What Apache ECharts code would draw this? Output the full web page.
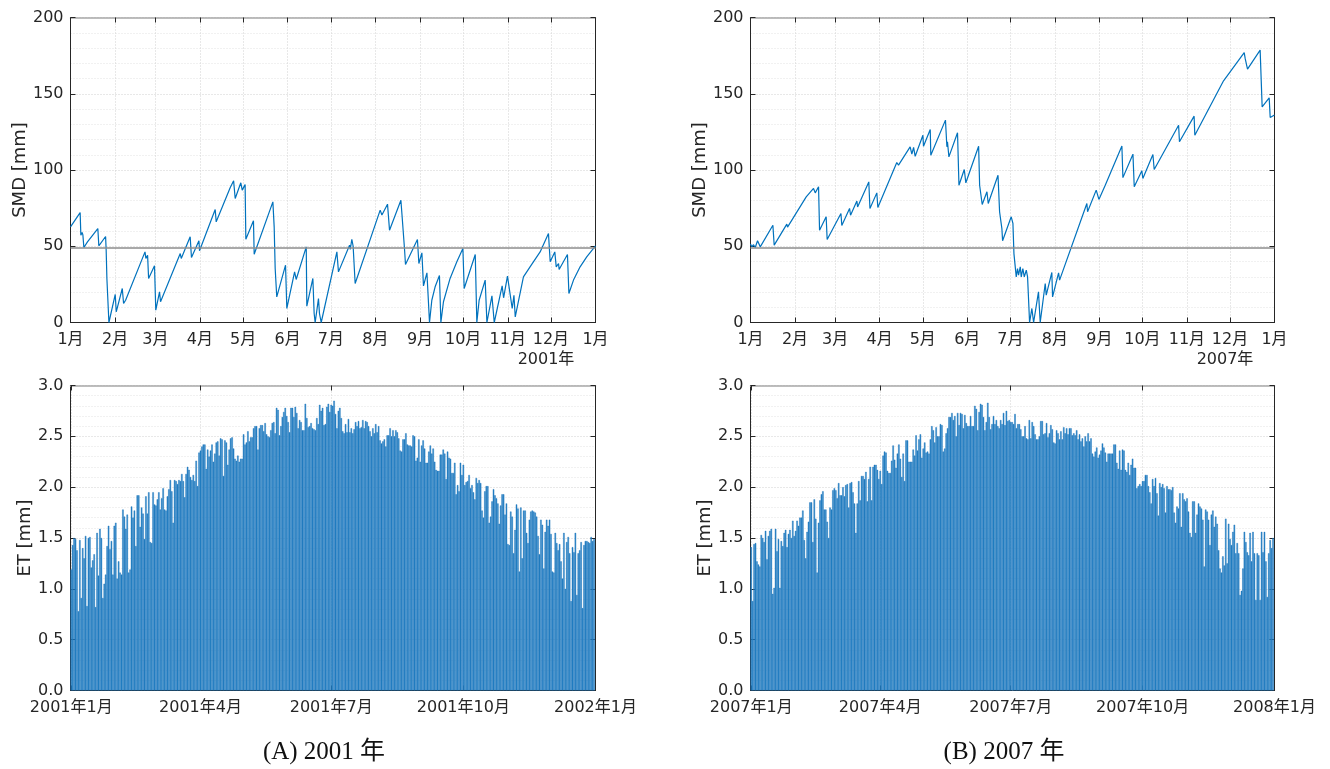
<!DOCTYPE html>
<html><head><meta charset="utf-8">
<script src="https://cdn.jsdelivr.net/npm/echarts@6/dist/echarts.min.js"></script>
<style>html,body{margin:0;padding:0;background:#fff}#c{width:1330px;height:769px}</style>
</head><body><div id="c"></div>
<script>
// ---------- data ----------
const monthTickDays = [0,31,59,90,120,151,181,212,243,273,304,334,365];
const monthTickLabels = ['1月','2月','3月','4月','5月','6月','7月','8月','9月','10月','11月','12月','1月'];
const etTickDays = [0,90,181,273,365];
const etTickLabelsA = ['2001年1月','2001年4月','2001年7月','2001年10月','2002年1月'];
const etTickLabelsB = ['2007年1月','2007年4月','2007年7月','2007年10月','2008年1月'];
const yearLabelA = '2001年';
const yearLabelB = '2007年';
const captionA = '(A) 2001 年';
const captionB = '(B) 2007 年';
const smdThreshold = 49;

// SMD [mm] vertices: [day of year, value]
const smd2001 = [
[0,62.7],[6.7,72.1],[7.2,57.3],[8.1,59],[8.6,57.5],[9.3,49.2],[11.8,52.9],[19.0,61.6],[19.7,50.3],[24.4,56.4],[24.8,47.4],[25.3,28.9],[25.7,28],[26.7,0],[31.1,18.4],[31.8,7],[36.0,22.3],[36.9,12.5],[38.3,14.6],[51.8,46.3],[52.4,42],[53.6,44],[54.3,28.9],[58.4,37.2],[59.3,8.1],[61.9,20.1],[62.6,13.6],[76.3,45.2],[77.0,42],[83.2,56.2],[84.1,42.6],[89.3,53.6],[89.7,47],[100.6,74.1],[101.3,66],[111.0,88.3],[113.4,92.9],[114.5,81.3],[118.4,91.6],[119.4,86.8],[121.4,90.5],[121.9,54.6],[127.2,66.7],[127.7,44.8],[140.7,79.1],[141.6,62.7],[142.3,35.4],[143.4,16.8],[149.5,37.6],[150.4,9.2],[155.8,33.2],[156.9,28.2],[163.9,49.6],[164.3,10.7],[168.5,28.9],[169.4,5.9],[170.1,0],[172.4,15.7],[173.1,5.9],[174.3,0],[185.2,46.3],[186.3,33.2],[194,50.7],[194.5,48],[195.6,54.6],[196.5,50],[197.9,25.6],[215.3,73.7],[216.5,70.5],[220.4,77.6],[221.8,60.5],[229.7,80.2],[230.4,71.5],[231.5,72.6],[232.2,48.5],[232.9,38],[241.2,54.4],[242.2,38.7],[244.3,45.7],[245.4,24],[247.8,32.6],[249.6,0],[251.2,14.6],[253.5,23.4],[256.5,30.8],[257.5,0],[259.3,13.6],[263.9,28.9],[268.6,39.8],[272.8,48.5],[273.7,22.3],[281.4,44.6],[282.5,0],[284.1,14.6],[288.3,27.8],[289.5,0],[293.0,17.5],[294.6,0],[300.1,24],[301.1,16.2],[303.8,30.4],[307.1,9.2],[308.3,17.9],[309.2,3.7],[314.9,29.9],[319.5,36.5],[326.5,46.3],[332.3,58.4],[333.5,39.8],[336.7,46.3],[337.7,36.5],[339.3,38.7],[339.7,34.8],[345.5,44.6],[346.5,19],[349.7,27.8],[354.3,36.5],[358.9,43],[365,50.3]
];
const smd2007 = [
[0,51.4],[0.9,49.6],[2.1,51],[3.3,49.2],[4.9,53.6],[6.0,54.4],[6.8,49.6],[15.6,63.8],[16.5,50.7],[25.3,64.5],[25.8,62.5],[38.8,82.4],[43.9,87.9],[45.1,85],[47.4,89],[48.1,60.5],[52.7,69.3],[53.4,54.4],[63.0,71.5],[63.6,63.6],[69.0,74.8],[69.7,70.4],[74.1,79.6],[74.6,75.8],[82.4,92.2],[83.2,74.8],[88.0,85],[88.7,75.4],[101.9,104.9],[103.1,103.2],[111.2,115.2],[112.4,110.4],[113.6,114.8],[114.7,109],[120.1,122.8],[120.5,115.6],[125.2,126.6],[125.6,109.7],[135.8,132.7],[136.8,115.2],[137.2,118.5],[138.2,108.6],[144.2,124.4],[145.2,90],[148.9,100.3],[150.0,91.6],[158.9,115.6],[159.6,90],[160.7,90.5],[161.4,77.4],[164.7,85.7],[165.6,78],[172.4,96.6],[173.5,72.6],[174.4,73.2],[175.1,61.6],[175.6,53.6],[181.6,69.3],[182.8,65],[183.5,45.2],[183.9,44.1],[185.1,29.9],[186.0,35.4],[186.7,31],[187.9,36.5],[188.6,29.9],[189.7,35.4],[190.7,29.9],[192.1,34.3],[193.0,29.9],[194.4,0],[196.0,9.2],[197.2,0],[200.6,20.1],[201.8,0],[205.3,25.6],[206.0,17.9],[209.9,32.8],[210.4,16.8],[214.6,32.6],[215.3,27.8],[234.3,78],[234.8,72.6],[240.8,86.8],[242.7,80.7],[247.1,90],[258.7,115.8],[259.4,95],[266.4,110.4],[267.3,89],[272.6,99.5],[273.3,94.4],[280.3,110.2],[281.2,100.3],[298.2,129.4],[298.8,118.5],[309.0,135.3],[309.5,122.8],[329.5,158.5],[343.9,177],[344.6,173],[345.1,173.6],[346.2,166.1],[355.0,178.6],[356.4,141.4],[361.3,147.3],[362.0,134.4],[363.2,135.5],[365,136]
];

// daily ET [mm], 365 values each
const et2001 = [
1.19,1.43,1.50,1.49,1.38,0.78,1.48,0.91,1.40,1.30,
1.52,0.83,1.50,1.51,1.21,1.28,1.34,0.82,1.55,1.13,
1.59,1.50,0.91,1.05,1.14,1.42,1.62,1.39,1.47,1.14,
1.62,1.65,1.10,1.27,1.16,1.14,1.78,1.71,1.59,1.73,
1.16,1.19,1.81,1.70,1.77,1.42,1.92,1.92,1.61,1.80,
1.74,1.49,1.91,1.74,1.95,1.46,1.45,1.95,1.83,1.82,
1.88,1.95,1.78,1.89,1.99,1.78,1.77,1.91,1.98,2.07,
1.96,1.65,2.07,2.06,2.03,2.07,2.06,2.13,2.06,1.90,
2.13,2.20,2.17,2.10,2.07,2.12,2.06,2.26,2.01,2.34,
2.36,2.40,2.42,2.42,2.18,2.37,2.30,2.36,2.42,2.25,
2.33,2.44,2.45,2.31,2.48,2.47,2.11,2.46,2.44,2.22,
2.37,2.48,2.49,2.38,2.28,2.26,2.31,2.25,2.28,2.28,
2.52,2.42,2.44,2.55,2.45,2.49,2.49,2.58,2.60,2.60,
2.37,2.58,2.61,2.61,2.55,2.63,2.52,2.50,2.49,2.56,
2.63,2.64,2.53,2.78,2.76,2.51,2.60,2.69,2.74,2.78,
2.70,2.64,2.54,2.78,2.78,2.69,2.79,2.73,2.58,2.66,
2.64,2.56,2.56,2.82,2.68,2.59,2.60,2.63,2.58,2.57,
2.56,2.68,2.62,2.81,2.75,2.78,2.61,2.62,2.79,2.82,
2.74,2.81,
2.80,2.85,2.72,2.58,2.75,2.78,2.68,2.55,2.53,2.62,
2.54,2.67,2.54,2.58,2.53,2.57,2.64,2.60,2.65,2.58,
2.59,2.66,2.58,2.65,2.64,2.60,2.55,2.50,2.58,2.53,
2.62,2.54,2.60,2.46,2.43,2.45,2.47,2.40,2.51,2.51,
2.58,2.50,2.56,2.50,2.56,2.54,2.48,2.36,2.35,2.47,
2.47,2.53,2.42,2.41,2.41,2.40,2.51,2.50,2.26,2.29,
2.47,2.25,2.41,2.46,2.38,2.24,2.24,2.35,2.41,2.33,
2.38,2.25,2.17,2.16,2.16,2.32,2.32,2.37,2.33,2.08,
2.35,2.29,2.28,2.14,2.14,2.24,1.93,2.02,1.96,2.24,
2.12,2.22,2.02,2.05,2.06,2.12,1.99,2.02,1.95,1.88,
2.09,2.04,2.07,2.04,1.77,1.70,1.96,2.01,2.01,1.65,
1.71,1.86,1.98,1.92,1.89,1.84,1.64,1.82,1.93,1.93,
1.73,1.84,1.44,1.43,1.76,1.71,1.35,1.58,1.83,1.79,
1.17,1.80,1.30,1.77,1.77,1.55,1.45,1.68,1.76,1.77,
1.76,1.75,1.71,1.52,1.34,1.68,1.63,1.20,1.56,1.68,
1.62,1.68,1.54,1.17,1.16,1.55,1.45,1.38,1.44,1.27,
1.10,1.55,1.00,1.46,1.51,1.35,0.88,1.41,1.36,1.55,
0.94,1.35,1.38,1.46,0.81,1.43,1.47,1.47,1.46,1.45,
1.51,1.47,1.49
];
const et2007 = [
1.41,0.88,1.44,1.45,1.27,1.24,1.22,1.53,1.50,1.46,
1.57,1.29,1.52,1.57,1.59,0.95,1.01,1.59,1.37,1.49,
1.01,1.47,1.42,1.55,1.58,1.41,1.54,1.58,1.50,1.67,
1.52,1.57,1.67,1.62,1.70,1.70,1.77,1.48,1.30,1.56,
1.66,1.85,1.85,1.46,1.88,1.69,1.16,1.65,1.87,1.93,
1.96,1.78,1.78,1.66,1.50,1.80,1.78,1.97,1.99,1.97,
1.89,2.04,1.92,1.92,2.00,1.91,2.02,2.03,1.80,2.04,
2.05,1.95,1.84,1.55,1.84,2.06,1.87,2.11,2.11,2.08,
2.15,1.86,2.08,2.20,1.87,2.20,2.22,2.22,2.17,2.08,
2.16,2.03,2.31,2.35,2.34,2.16,2.14,2.14,2.26,2.41,
2.27,2.19,2.33,2.42,2.28,2.10,2.33,2.06,2.46,2.46,
2.25,2.25,2.25,2.37,2.31,2.51,2.36,2.47,2.52,2.29,
2.38,2.44,2.34,2.35,2.33,2.47,2.60,2.56,2.44,2.59,
2.50,2.50,2.62,2.61,2.35,2.38,2.53,2.58,2.69,2.69,
2.73,2.66,2.70,2.50,2.73,2.61,2.73,2.72,2.58,2.71,
2.63,2.60,2.60,2.70,2.60,2.60,2.80,2.77,2.56,2.74,
2.82,2.81,2.69,2.56,2.64,2.83,2.69,2.57,2.62,2.70,
2.62,2.66,2.60,2.58,2.66,2.62,2.73,2.61,2.75,2.65,
2.66,2.64,
2.64,2.62,2.72,2.58,2.62,2.62,2.57,2.50,2.50,2.60,
2.48,2.47,2.66,2.48,2.64,2.60,2.52,2.47,2.47,2.50,
2.65,2.65,2.52,2.53,2.63,2.49,2.53,2.61,2.57,2.44,
2.43,2.56,2.53,2.47,2.55,2.47,2.59,2.53,2.58,2.52,
2.58,2.58,2.51,2.53,2.51,2.56,2.47,2.52,2.45,2.48,
2.40,2.50,2.45,2.53,2.45,2.48,2.33,2.30,2.35,2.39,
2.29,2.32,2.36,2.43,2.39,2.34,2.25,2.33,2.33,2.33,
2.33,2.42,2.42,2.24,2.18,2.36,2.17,2.37,2.36,2.17,
2.15,2.24,2.12,2.22,2.28,2.19,2.19,1.99,2.01,2.03,
2.01,2.06,2.06,2.12,2.12,2.01,1.95,1.84,2.08,2.01,
2.09,1.94,1.72,2.04,2.00,2.03,1.99,1.75,2.01,1.98,
1.98,1.97,2.00,1.75,1.65,1.81,1.79,1.94,1.61,1.94,
1.88,1.86,1.89,1.76,1.55,1.51,1.86,1.86,1.55,1.73,
1.84,1.81,1.79,1.68,1.22,1.78,1.76,1.68,1.43,1.73,
1.77,1.61,1.71,1.64,1.38,1.20,1.16,1.32,1.23,1.69,
1.25,1.64,1.49,1.43,1.56,1.63,1.35,1.45,1.35,0.94,
0.98,1.20,1.56,1.46,1.36,1.33,1.55,1.27,1.56,1.35,
0.89,1.35,1.33,0.89,1.56,1.36,1.56,1.27,0.92,1.35,
1.48,1.40,1.50
];

// ---------- styles ----------
const FF = "'DejaVu Sans', 'Noto Sans CJK JP', sans-serif";
const AX = '#262626';
const GRID_MAJOR = '#d0d0d0';
const GRID_MINOR = '#e2e2e2';
const LINE_BLUE = '#0072BD';
const BAR_BLUE = '#2a85c7';

const chart = echarts.init(document.getElementById('c'), null, {renderer: 'canvas'});

const grids = [
  {left: 70.5, top: 17.5, width: 525, height: 305},
  {left: 750.5, top: 17.5, width: 524, height: 305},
  {left: 70.5, top: 385.5, width: 525, height: 305},
  {left: 750.5, top: 385.5, width: 524, height: 305}
];

function xAxes(gi, min, max, ticks, labels) {
  return [
    {type: 'value', gridIndex: gi, min: min, max: max, position: 'bottom',
     axisLine: {show: true, onZero: false, lineStyle: {color: AX, width: 1}},
     axisTick: {show: true, inside: true, length: 5, customValues: ticks, lineStyle: {color: AX}},
     axisLabel: {show: true, customValues: ticks, color: AX, fontSize: 16, fontFamily: FF, margin: 9,
       formatter: function (v) { const i = ticks.indexOf(v); return i >= 0 ? labels[i] : ''; }},
     splitLine: {show: true, lineStyle: {color: GRID_MAJOR, type: [1, 2], width: 1}}
    },
    {type: 'value', gridIndex: gi, min: min, max: max, position: 'top',
     axisLine: {show: true, onZero: false, lineStyle: {color: '#a8a8a8', width: 1.5}},
     axisTick: {show: true, inside: true, length: 5, customValues: ticks, lineStyle: {color: AX}},
     axisLabel: {show: false}, splitLine: {show: false}
    }
  ];
}

function yAxes(gi, min, max, interval, name, nameGap, fmt) {
  return [
    {type: 'value', gridIndex: gi, min: min, max: max, interval: interval, position: 'left',
     name: name, nameLocation: 'middle', nameGap: nameGap,
     nameTextStyle: {color: AX, fontSize: 18, fontFamily: FF},
     axisLine: {show: true, onZero: false, lineStyle: {color: AX, width: 1}},
     axisTick: {show: true, inside: true, length: 5, lineStyle: {color: AX}},
     axisLabel: {show: true, color: AX, fontSize: 16, fontFamily: FF, margin: 7, formatter: fmt},
     splitLine: {show: true, lineStyle: {color: GRID_MAJOR, type: [1, 2], width: 1}},
     minorTick: {show: false, splitNumber: 5},
     minorSplitLine: {show: true, lineStyle: {color: GRID_MINOR, type: [1, 2], width: 1}}
    },
    {type: 'value', gridIndex: gi, min: min, max: max, interval: interval, position: 'right',
     axisLine: {show: true, onZero: false, lineStyle: {color: AX, width: 1}},
     axisTick: {show: true, inside: true, length: 5, lineStyle: {color: AX}},
     axisLabel: {show: false}, splitLine: {show: false}
    }
  ];
}

const xAxis = [].concat(
  xAxes(0, 0, 365, monthTickDays, monthTickLabels),
  xAxes(1, 0, 365, monthTickDays, monthTickLabels),
  xAxes(2, -0.5, 365, etTickDays, etTickLabelsA),
  xAxes(3, -0.5, 365, etTickDays, etTickLabelsB)
);
const yAxis = [].concat(
  yAxes(0, 0, 200, 50, 'SMD [mm]', 39, function (v) { return String(v); }),
  yAxes(1, 0, 200, 50, 'SMD [mm]', 39, function (v) { return String(v); }),
  yAxes(2, 0, 3, 0.5, 'ET [mm]', 35, function (v) { return v.toFixed(1); }),
  yAxes(3, 0, 3, 0.5, 'ET [mm]', 35, function (v) { return v.toFixed(1); })
);

function smdSeries(data, xi, yi) {
  return {type: 'line', xAxisIndex: xi, yAxisIndex: yi, data: data, showSymbol: false, symbol: 'none',
    lineStyle: {color: LINE_BLUE, width: 1.2}, clip: true, z: 3,
    markLine: {silent: true, symbol: 'none', label: {show: false},
      lineStyle: {color: '#8c8c8c', width: 1.5, type: 'solid'},
      data: [{yAxis: smdThreshold}]}
  };
}
function etSeries(values, xi, yi) {
  return {type: 'bar', xAxisIndex: xi, yAxisIndex: yi,
    data: values.map(function (v, i) { return [i, v]; }),
    barWidth: '100%', itemStyle: {color: BAR_BLUE, borderColor: '#1370b8', borderWidth: 0.4}, z: 2};
}

const textStyle = {fill: AX, font: '16px ' + FF, textAlign: 'center', textVerticalAlign: 'middle'};
const capStyle = {fill: '#111', font: "25px 'Liberation Serif', 'Times New Roman', 'Noto Sans CJK JP', serif", textAlign: 'center', textVerticalAlign: 'middle'};

chart.setOption({
  animation: false,
  backgroundColor: '#fff',
  grid: grids,
  xAxis: xAxis,
  yAxis: yAxis,
  series: [
    smdSeries(smd2001, 0, 0),
    smdSeries(smd2007, 2, 2),
    etSeries(et2001, 4, 4),
    etSeries(et2007, 6, 6)
  ],
  graphic: [
    {type: 'text', x: 546, y: 360, style: Object.assign({text: yearLabelA}, textStyle)},
    {type: 'text', x: 1225, y: 360, style: Object.assign({text: yearLabelB}, textStyle)},
    {type: 'text', x: 324, y: 752, style: Object.assign({text: captionA}, capStyle)},
    {type: 'text', x: 1004, y: 752, style: Object.assign({text: captionB}, capStyle)}
  ]
});
</script>
</body></html>
